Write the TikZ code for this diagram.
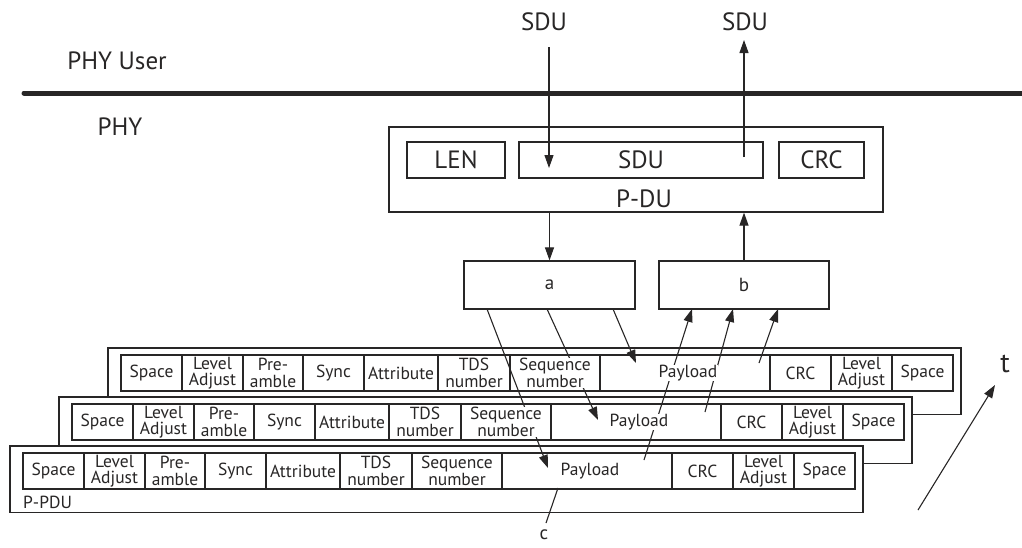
\documentclass[tikz,border=0pt]{standalone}
\usepackage{fontspec}
\setmainfont{PT Sans}
\usetikzlibrary{arrows.meta}
\definecolor{ink}{RGB}{40,38,38}
\begin{document}
\begin{tikzpicture}[x=1pt,y=-1pt,
  ln/.style={draw=ink, line width=1.1pt},
  box/.style={draw=ink, line width=1.2pt, fill=white},
  arr/.style={ln, -{Triangle[length=13pt,width=9pt]}},
  cell/.style={text=ink, font=\fontsize{17.5}{16.5}\selectfont, fill=white, inner sep=0.2pt, align=center},
  big/.style={text=ink, font=\fontsize{25}{27}\selectfont, inner sep=0pt},
  small/.style={text=ink, font=\fontsize{19}{20}\selectfont, inner sep=0pt},
  rbox/.style={box, inner sep=0pt, minimum width=#1}]
\useasboundingbox (0,0) rectangle (1022,547);

% user / phy boundary
\coordinate (hl) at (24,93);
\coordinate (hr) at (1024,93);
\draw[ink, line width=5pt, line cap=round] (hl) -- (hr);
\node[big] (phyuser) at (117,61) {PHY User};
\node[big] (phy) at (120,127) {PHY};

% P-DU
\node[rbox=494pt, minimum height=85pt] (pdu) at (636,169.5) {};
\node[rbox=98pt, minimum height=36pt, big] (len) at (456,160) {LEN};
\node[rbox=244pt, minimum height=36pt, big] (sdu) at (641,160) {SDU};
\node[rbox=85pt, minimum height=36pt, big] (crc) at (821.5,160) {CRC};
\node[big] (pdulbl) at (644,199) {P-DU};

\node[big] (sduin) at (544,22) {SDU};
\node[big] (sduout) at (745,22) {SDU};

% a and b
\node[rbox=171pt, minimum height=48pt, small] (a) at (549.5,285) {a};
\node[rbox=170pt, minimum height=48pt, small] (b) at (744,285) {b};

% frames (back to front)
\foreach \k in {0,1,2} {
  \begin{scope}[shift={(-49*\k,49*\k)}]
    \draw[box] (108,348) rectangle (961,414.5);
    \foreach \l/\r in {121/182,182/243,243/303,303/364,364/438,438/510,510/600,600/770,770/831,831/892,892/953}
      \draw[box] (\l,355) rectangle (\r,391);
  \end{scope}
}

% SDU connectors
\coordinate (dtop) at (549,47);
\coordinate (dbot) at (549,168);
\draw[arr] (dtop) -- (dbot);
\coordinate (ubot) at (744,157);
\coordinate (utop) at (744,40);
\draw[arr] (ubot) -- (utop);
\draw[arr] (pdu.south -| a.north) -- (a.north);
\draw[arr] (b.north) -- (b.north |- pdu.south);

% from a to payloads
\coordinate (a1s) at (487,309); \coordinate (a1e) at (548,468);
\coordinate (a2s) at (547,309); \coordinate (a2e) at (598,420);
\coordinate (a3s) at (613,309); \coordinate (a3e) at (636,363);
\draw[arr] (a1s) -- (a1e);
\draw[arr] (a2s) -- (a2e);
\draw[arr] (a3s) -- (a3e);

% from payloads to b
\coordinate (b1s) at (644,460); \coordinate (b1e) at (692,309);
\coordinate (b2s) at (705,412); \coordinate (b2e) at (733,309);
\coordinate (b3s) at (759,363); \coordinate (b3e) at (778,309);
\draw[arr] (b1s) -- (b1e);
\draw[arr] (b2s) -- (b2e);
\draw[arr] (b3s) -- (b3e);

% c
\coordinate (cs) at (558,488);
\coordinate (ce) at (546,523);
\draw[ln] (cs) -- (ce);
\node[small] (clbl) at (544,535) {c};

% time
\coordinate (ts) at (918,510);
\coordinate (te) at (995,385);
\draw[arr] (ts) -- (te);
\node[text=ink, font=\fontsize{28}{30}\selectfont, inner sep=0pt] (tlbl) at (1005,364) {t};

% cell texts, then cell borders again on top
\foreach \k in {0,1,2} {
  \begin{scope}[shift={(-49*\k,49*\k)}]
    \foreach \cx/\t [count=\i] in {151.5/Space, 212.5/{Level\\Adjust}, 273/{Pre-\\amble}, 333.5/Sync, 401/Attribute, 474/{TDS\\number}, 555/{Sequence\\number}, 688/Payload, 800.5/CRC, 861.5/{Level\\Adjust}, 922.5/Space}
      \node[cell] (f\k c\i) at (\cx,373) {\t};
    \foreach \l/\r in {121/182,182/243,243/303,303/364,364/438,438/510,510/600,600/770,770/831,831/892,892/953}
      \draw[ink, line width=1.2pt] (\l,355) rectangle (\r,391);
  \end{scope}
}
\node[cell, fill=none, anchor=west, inner sep=0pt] (ppdu) at (23,502) {P-PDU};
\end{tikzpicture}
\end{document}
